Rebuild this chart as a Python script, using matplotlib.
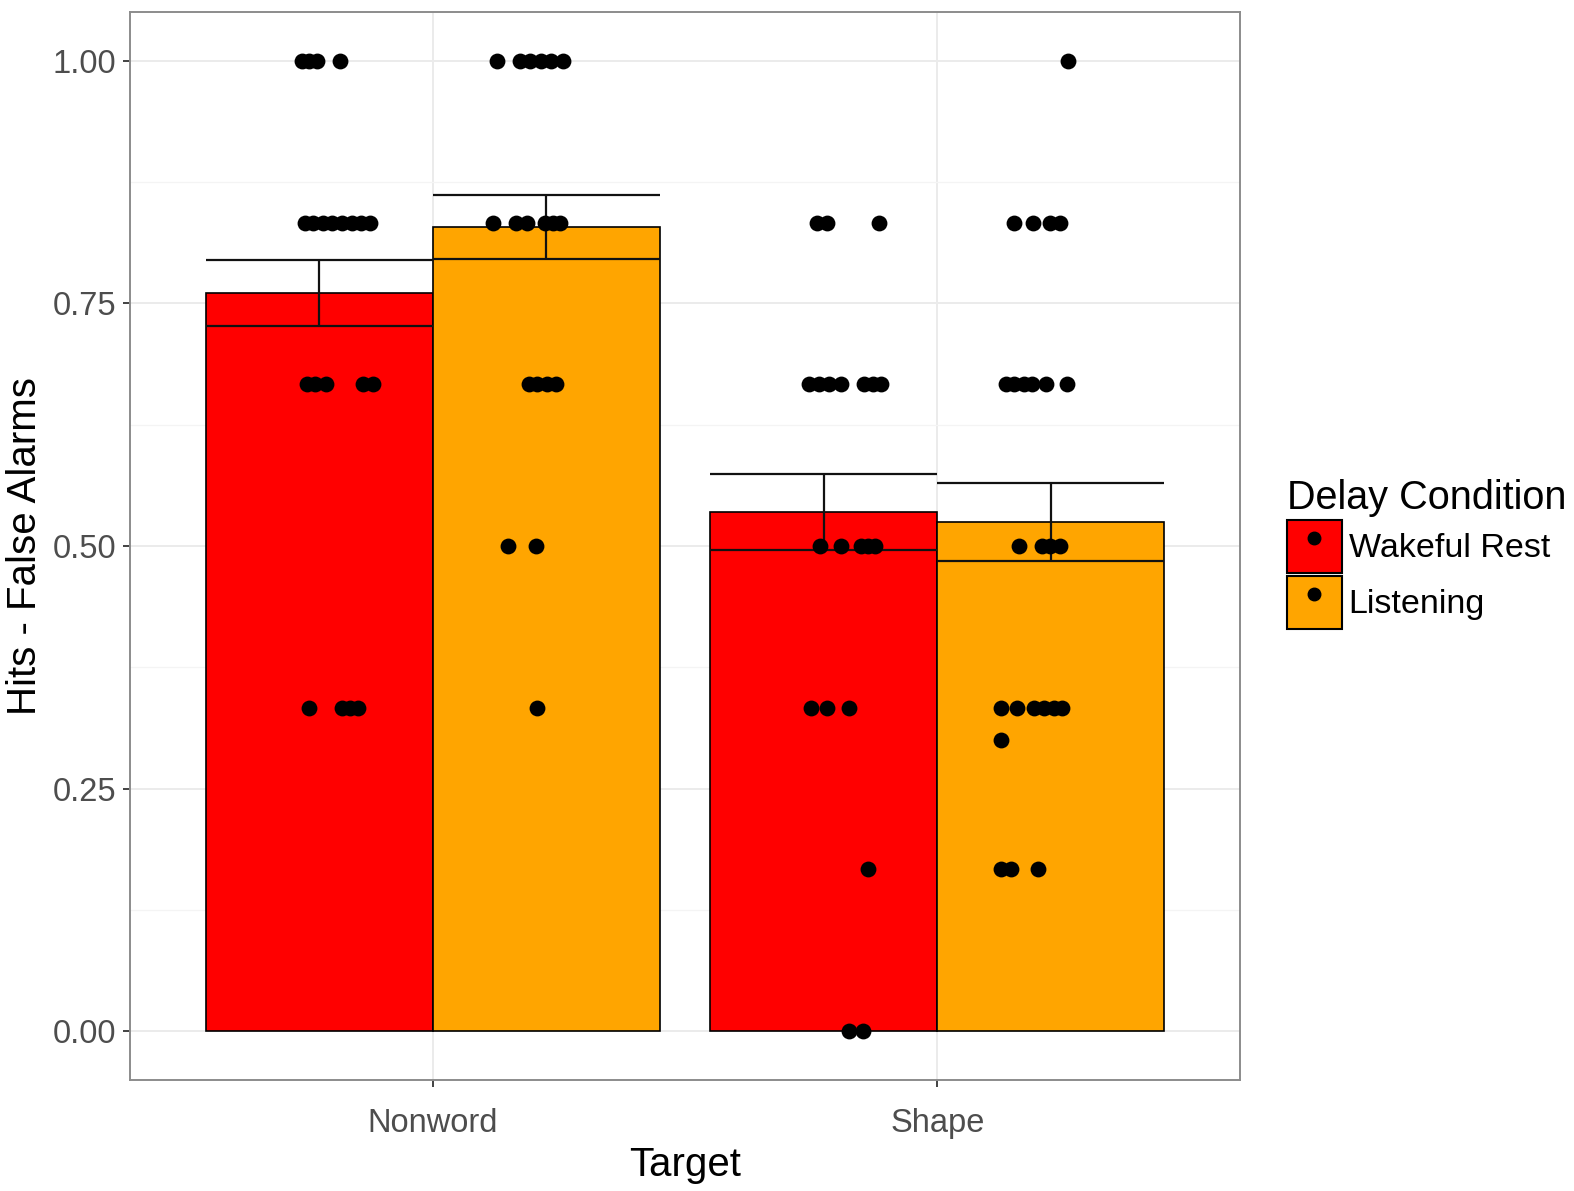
import numpy as np
import matplotlib.pyplot as plt
from matplotlib.patches import Patch
from matplotlib.lines import Line2D

plt.rcParams['font.family'] = ['Liberation Sans', 'DejaVu Sans']

targets = ['Nonword', 'Shape']
conditions = ['Wakeful Rest', 'Listening']
cond_colors = ['#FF0000', '#FFA500']

# group means and standard errors of hits - false alarms
wake_mean = [0.761, 0.535]
wake_se = [0.034, 0.039]
listen_mean = [0.829, 0.525]
listen_se = [0.033, 0.040]

# individual participants: jittered x offset from the target centre, and score
nw_wake_dx = [-0.260, -0.245, -0.229, -0.183,
              -0.254, -0.237, -0.217, -0.199, -0.179, -0.161, -0.143, -0.125,
              -0.249, -0.233, -0.211, -0.139, -0.119,
              -0.245, -0.179, -0.163, -0.149]
nw_wake_y = [1.0, 1.0, 1.0, 1.0,
             0.833, 0.833, 0.833, 0.833, 0.833, 0.833, 0.833, 0.833,
             0.667, 0.667, 0.667, 0.667, 0.667,
             0.333, 0.333, 0.333, 0.333]

nw_listen_dx = [0.127, 0.173, 0.193, 0.215, 0.235, 0.259,
                0.119, 0.165, 0.187, 0.223, 0.239, 0.252,
                0.191, 0.207, 0.227, 0.245,
                0.149, 0.205,
                0.207]
nw_listen_y = [1.0, 1.0, 1.0, 1.0, 1.0, 1.0,
               0.833, 0.833, 0.833, 0.833, 0.833, 0.833,
               0.667, 0.667, 0.667, 0.667,
               0.5, 0.5,
               0.333]

sh_wake_dx = [-0.239, -0.219, -0.115,
              -0.254, -0.235, -0.215, -0.191, -0.145, -0.127, -0.111,
              -0.233, -0.191, -0.151, -0.137, -0.123,
              -0.250, -0.219, -0.175,
              -0.137,
              -0.175, -0.147]
sh_wake_y = [0.833, 0.833, 0.833,
             0.667, 0.667, 0.667, 0.667, 0.667, 0.667, 0.667,
             0.5, 0.5, 0.5, 0.5, 0.5,
             0.333, 0.333, 0.333,
             0.167,
             0.0, 0.0]

sh_listen_dx = [0.260,
                0.153, 0.189, 0.223, 0.243,
                0.137, 0.153, 0.171, 0.187, 0.215, 0.258,
                0.161, 0.207, 0.223, 0.243,
                0.127, 0.159, 0.191, 0.211, 0.231, 0.247,
                0.127,
                0.127, 0.147, 0.199]
sh_listen_y = [1.0,
               0.833, 0.833, 0.833, 0.833,
               0.667, 0.667, 0.667, 0.667, 0.667, 0.667,
               0.5, 0.5, 0.5, 0.5,
               0.333, 0.333, 0.333, 0.333, 0.333, 0.333,
               0.3,
               0.167, 0.167, 0.167]

fig = plt.figure(figsize=(15.74, 11.91), dpi=100)
ax = fig.add_axes([0.0826, 0.0932, 0.7052, 0.8967])

x = np.arange(1, len(targets) + 1)
width = 0.45
summary = [(wake_mean, wake_se), (listen_mean, listen_se)]

for i, (means, ses) in enumerate(summary):
    pos = x + (i - 0.5) * width
    means = np.array(means)
    ses = np.array(ses)
    ax.bar(pos, means, width, color=cond_colors[i], edgecolor='black',
           linewidth=1.2, zorder=2)
    ax.hlines(means + ses, pos - width / 2, pos + width / 2, color='#111111',
              linewidth=1.6, zorder=3)
    ax.hlines(means - ses, pos - width / 2, pos + width / 2, color='#111111',
              linewidth=1.6, zorder=3)
    ax.vlines(pos, means - ses, means + ses, color='#111111', linewidth=1.6, zorder=3)

point_groups = [(1, nw_wake_dx, nw_wake_y), (1, nw_listen_dx, nw_listen_y),
                (2, sh_wake_dx, sh_wake_y), (2, sh_listen_dx, sh_listen_y)]
for centre, dx, ys in point_groups:
    ax.scatter(centre + np.array(dx), ys, s=130, color='black', linewidths=0, zorder=4)

ax.set_xlim(0.4, 2.6)
ax.set_ylim(-0.05, 1.05)
ax.set_xticks(x)
ax.set_xticklabels(targets)
ax.set_yticks([0, 0.25, 0.5, 0.75, 1.0])
ax.set_yticklabels(['0.00', '0.25', '0.50', '0.75', '1.00'])
ax.set_yticks([0.125, 0.375, 0.625, 0.875], minor=True)

ax.set_axisbelow(True)
ax.grid(which='major', color='#EBEBEB', linewidth=1.4)
ax.grid(which='minor', axis='y', color='#F4F4F4', linewidth=0.9)
ax.tick_params(which='major', labelsize=23.5, color='#333333', labelcolor='#4D4D4D',
               length=5, width=1.3, pad=5)
ax.tick_params(axis='x', which='major', pad=15)
ax.tick_params(which='minor', length=0)
for sp in ax.spines.values():
    sp.set_color('#8C8C8C')
    sp.set_linewidth(1.4)

ax.set_xlabel('Target', fontsize=29, labelpad=5)
ax.set_ylabel('Hits - False Alarms', fontsize=29, labelpad=6)

handles = [(Patch(facecolor=c, edgecolor='black', linewidth=1.5),
            Line2D([], [], linestyle='', marker='o', color='black', markersize=9))
           for c in cond_colors]
fig.legend(handles, conditions, title='Delay Condition', loc='center left',
           bbox_to_anchor=(0.8175, 0.535), bbox_transform=fig.transFigure,
           frameon=False, fontsize=24.5, title_fontsize=28.5,
           handlelength=1.62, handleheight=2.02, labelspacing=0.08,
           handletextpad=0.2, borderpad=0, borderaxespad=0, alignment='left')

fig.savefig('out.png', dpi=100)
